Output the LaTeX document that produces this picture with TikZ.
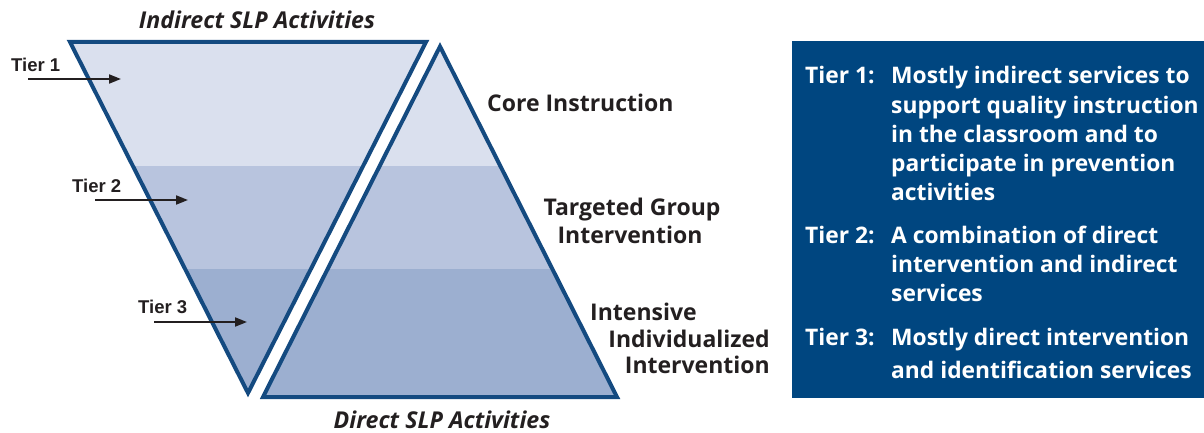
\documentclass[tikz,border=0pt]{standalone}
\usepackage{fontspec}
\setmainfont{Open Sans}
\newfontfamily\tierfont{Liberation Sans}
\usetikzlibrary{arrows.meta}
\definecolor{edgeblue}{RGB}{20,74,128}
\definecolor{bandA}{RGB}{218,224,238}
\definecolor{bandB}{RGB}{184,196,222}
\definecolor{bandC}{RGB}{156,175,208}
\definecolor{boxblue}{RGB}{0,70,128}
\definecolor{ink}{RGB}{35,31,32}
\begin{document}
\begin{tikzpicture}[x=1pt,y=-1pt,
  outline/.style={draw=edgeblue,line width=4pt,line join=miter},
  heading/.style={font=\fontsize{23.2}{27}\selectfont\bfseries\itshape,text=ink,inner sep=0pt,anchor=base},
  tierlbl/.style={font=\tierfont\fontsize{18.5}{22}\selectfont\bfseries,text=ink,inner sep=0pt,anchor=base west},
  levellbl/.style={font=\fontsize{23}{29}\selectfont\bfseries,text=ink,inner sep=0pt,anchor=base west},
  boxtxt/.style={font=\fontsize{22.8}{29}\selectfont\bfseries,text=white,inner sep=0pt,anchor=base west,align=left},
  pointer/.style={draw=ink,line width=1.8pt,-{Triangle[length=12pt,width=9pt]}}]
\useasboundingbox (0,0) rectangle (1204,433);

% corner points of the two triangles
\coordinate (iTL) at (70,42);
\coordinate (iTR) at (426,42);
\coordinate (iB)  at (248,393);
\coordinate (dT)  at (440,46.5);
\coordinate (dBL) at (263,397);
\coordinate (dBR) at (617,397);

% shaded bands inside the inverted triangle
\begin{scope}
  \clip (iTL) -- (iTR) -- (iB) -- cycle;
  \fill[bandA] (0,0) rectangle (700,166);
  \fill[bandB] (0,166) rectangle (700,269);
  \fill[bandC] (0,269) rectangle (700,433);
\end{scope}
% shaded bands inside the upright triangle
\begin{scope}
  \clip (dT) -- (dBR) -- (dBL) -- cycle;
  \fill[bandA] (0,0) rectangle (700,166);
  \fill[bandB] (0,166) rectangle (700,269);
  \fill[bandC] (0,269) rectangle (700,433);
\end{scope}
\draw[outline] (iTL) -- (iTR) -- (iB) -- cycle;
\draw[outline] (dT) -- (dBR) -- (dBL) -- cycle;

% headings
\node[heading] (indirect) at (257,29) {Indirect SLP Activities};
\node[heading] (direct) at (442,428) {Direct SLP Activities};

% tier pointers
\node[tierlbl] (t1) at (11,72) {Tier 1};
\node[tierlbl] (t2) at (72,192) {Tier 2};
\node[tierlbl] (t3) at (138,313) {Tier 3};
\coordinate (t1s) at (28,79);  \coordinate (t1e) at (121,79);
\coordinate (t2s) at (95,200); \coordinate (t2e) at (188,200);
\coordinate (t3s) at (154,322);\coordinate (t3e) at (247,322);
\draw[pointer] (t1s) -- (t1e);
\draw[pointer] (t2s) -- (t2e);
\draw[pointer] (t3s) -- (t3e);

% level names
\node[levellbl] (core) at (487,112) {Core Instruction};
\node[levellbl,anchor=base] (tg1) at (632,215) {Targeted Group};
\node[levellbl,anchor=base] (tg2) at (630,243) {Intervention};
\node[levellbl] (in1) at (590,320) {Intensive};
\node[levellbl,anchor=base east] (in2) at (770,347) {Individualized};
\node[levellbl,anchor=base east] (in3) at (770,373) {Intervention};

% description panel (multi-line nodes are placed by their last baseline)
\fill[boxblue] (792,41) rectangle (1204,398);
\node[boxtxt] (k1) at (805,84) {Tier 1:};
\node[boxtxt] (d1) at (891,200) {Mostly indirect services to\\support quality instruction\\in the classroom and to\\participate in prevention\\activities};
\node[boxtxt] (k2) at (805,243) {Tier 2:};
\node[boxtxt] (d2) at (891,301) {A combination of direct\\intervention and indirect\\services};
\node[boxtxt] (k3) at (805,345) {Tier 3:};
\node[boxtxt,font=\fontsize{22.8}{33}\selectfont\bfseries] (d3) at (891,378) {Mostly direct intervention\\and identification services};
\end{tikzpicture}
\end{document}
